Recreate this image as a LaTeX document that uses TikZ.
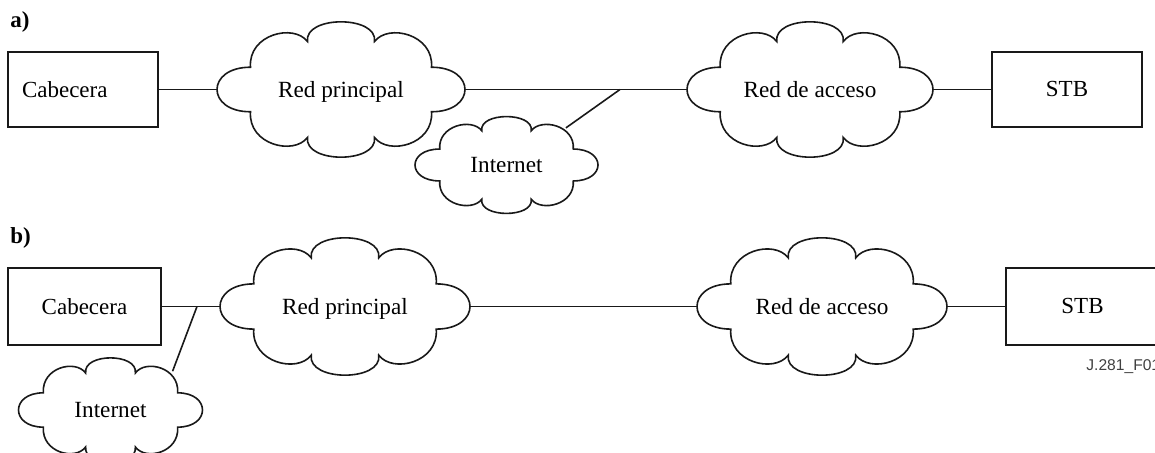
\documentclass[tikz,border=0pt]{standalone}
\usepackage{fontspec}
\setmainfont{Liberation Serif}
\setsansfont{Liberation Sans}
\usetikzlibrary{shapes.geometric}
\tikzset{
 ln/.style={line width=0.8pt, draw=black!90},
 cloudnode/.style={ellipse, inner sep=0pt, text depth=0pt, font=\fontsize{11.6}{13}\selectfont},
 boxnode/.style={ln, rectangle, inner sep=0pt, font=\fontsize{11.5}{13}\selectfont},
 lbl/.style={font=\fontsize{11.5}{13}\selectfont\bfseries, anchor=base west, inner sep=0pt},
 figid/.style={anchor=base west, inner sep=0pt, font=\sffamily\fontsize{7.8}{9}\selectfont, text=black!75},
}
\newcommand\drawcloud[6]{%
 \node[cloudnode, minimum width=2*#4pt, minimum height=2*#5pt] (#1) at (#2,#3) {#6};
 \begin{scope}[shift={(#1.center)}, x=#4pt, y=#5pt]
 \draw[ln] (-0.73,-0.33) .. controls (-1.09,-0.33) and (-1.09,0.33) .. (-0.73,0.33)
 .. controls (-0.75,0.82) and (-0.38,0.98) .. (-0.27,0.71)
 .. controls (-0.3,1.1) and (0.3,1.1) .. (0.27,0.71)
 .. controls (0.38,0.98) and (0.75,0.82) .. (0.73,0.33)
 .. controls (1.09,0.33) and (1.09,-0.33) .. (0.73,-0.33)
 .. controls (0.75,-0.82) and (0.38,-0.98) .. (0.27,-0.71)
 .. controls (0.3,-1.1) and (-0.3,-1.1) .. (-0.27,-0.71)
 .. controls (-0.38,-0.98) and (-0.75,-0.82) .. (-0.73,-0.33) -- cycle;
 \end{scope}}
\begin{document}
\begin{tikzpicture}[x=0.5pt, y=-0.5pt]
\useasboundingbox (0,0) rectangle (1155,453);
\clip (0,0) rectangle (1155,453);
% panel a
\node[lbl] (la) at (10,28) {a)};
\node[boxnode, minimum height=37.5pt, text width=61pt, inner xsep=7pt, align=left] (caba) at (83,89.5) {Cabecera};
\drawcloud{rpa}{341}{89.5}{62}{33.75}{Red principal}
\drawcloud{raa}{810}{89.5}{61.5}{33.75}{Red de acceso}
\drawcloud{ina}{506.5}{165}{45.75}{24.15}{Internet}
\node[boxnode, minimum width=75pt, minimum height=37.5pt] (stba) at (1067,89.5) {STB};
\coordinate (ja) at (620,89.5);
\draw[ln] (caba.east) -- (rpa.west);
\draw[ln] (rpa.east) -- (raa.west);
\draw[ln] (ja) -- (ina.32);
\draw[ln] (raa.east) -- (stba.west);
% panel b
\node[lbl] (lb) at (10,244) {b)};
\node[boxnode, minimum width=76.5pt, minimum height=38.5pt] (cabb) at (84.5,306.5) {Cabecera};
\drawcloud{rpb}{345}{306.5}{62.5}{34.25}{Red principal}
\drawcloud{rab}{822}{306.5}{62.5}{34.25}{Red de acceso}
\drawcloud{inb}{110.5}{410}{46}{26}{Internet}
\node[boxnode, minimum width=76.5pt, minimum height=38.5pt] (stbb) at (1082.5,306.5) {STB};
\coordinate (jb) at (197,306.5);
\draw[ln] (cabb.east) -- (rpb.west);
\draw[ln] (jb) -- (inb.32);
\draw[ln] (rpb.east) -- (rab.west);
\draw[ln] (rab.east) -- (stbb.west);
\node[figid] (fig) at (1086,370.7) {J.281\_F01};
\end{tikzpicture}
\end{document}
